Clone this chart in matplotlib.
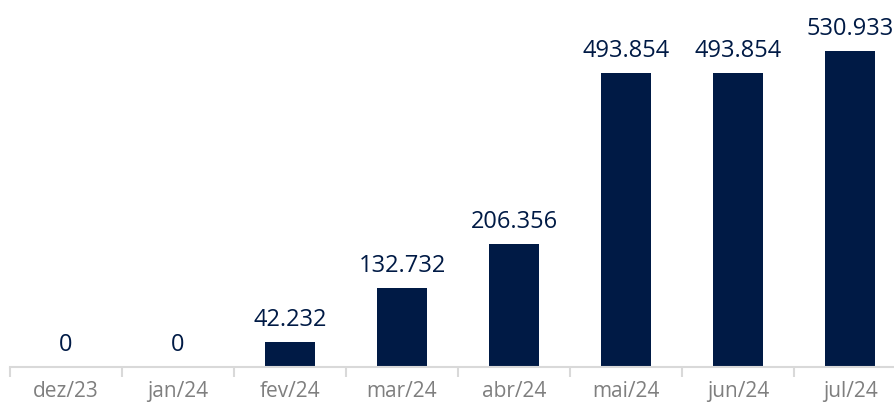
import matplotlib
matplotlib.use("Agg")
import matplotlib.pyplot as plt
from matplotlib.ticker import FixedLocator

months = ["dez/23", "jan/24", "fev/24", "mar/24", "abr/24", "mai/24", "jun/24", "jul/24"]
values = [0, 0, 42232, 132732, 206356, 493854, 493854, 530933]
labels = ["0", "0", "42.232", "132.732", "206.356", "493.854", "493.854", "530.933"]

navy = "#001a45"
gray = "#d9d9d9"

plt.rcParams["font.family"] = ["Open Sans", "DejaVu Sans"]

fig = plt.figure(figsize=(8.95, 4.05), dpi=100)
# axes spans slightly past the right edge, as in the reference
ax = fig.add_axes([10 / 895, 38 / 405, 896 / 895, 367 / 405])

x = list(range(len(months)))
bars = ax.bar(x, values, width=0.455, color=navy)
ax.bar_label(bars, labels=labels, padding=7, color=navy, fontsize=17)

ax.set_xlim(-0.5, len(months) - 0.5)
ax.set_ylim(0, 616600)

ax.set_xticks(x)
ax.set_xticklabels(months, color="#7f7f7f", fontsize=15)
ax.tick_params(axis="x", which="major", length=0, pad=10)
ax.xaxis.set_minor_locator(FixedLocator([i - 0.5 for i in range(len(months) + 1)]))
ax.tick_params(axis="x", which="minor", length=7, color=gray, width=1.5)

ax.set_yticks([])
for side in ["top", "right", "left"]:
    ax.spines[side].set_visible(False)
ax.spines["bottom"].set_color(gray)
ax.spines["bottom"].set_linewidth(1.5)

plt.savefig("out.png", dpi=100)
